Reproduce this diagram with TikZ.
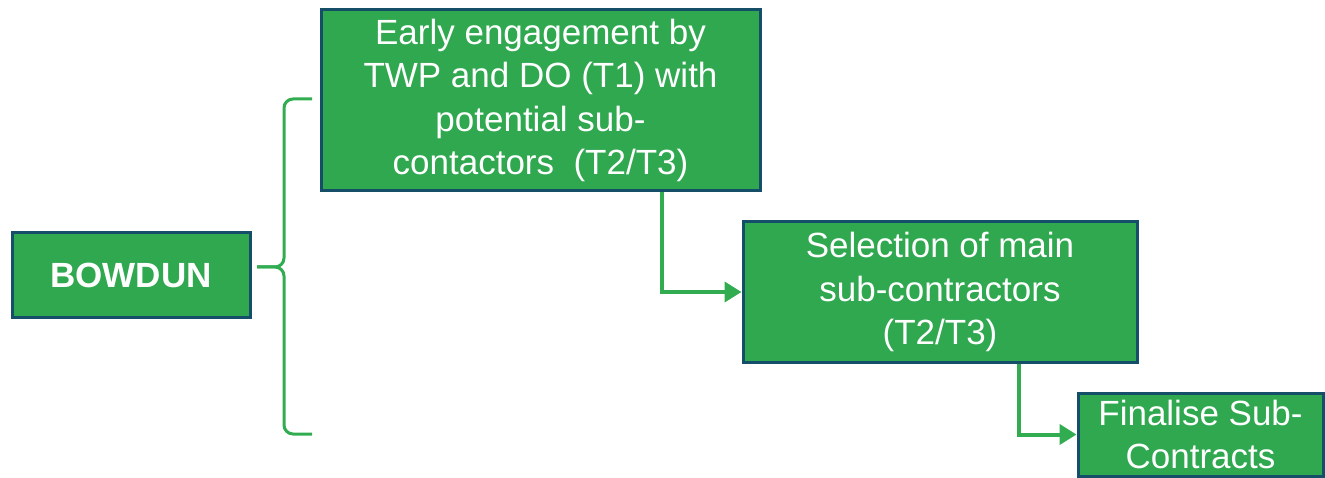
\documentclass[tikz,border=0pt]{standalone}
\usepackage{fontspec}
\setmainfont{Liberation Sans}
\usetikzlibrary{arrows.meta,calc}
\definecolor{boxgreen}{RGB}{47,168,79}
\definecolor{boxedge}{RGB}{20,78,105}
\definecolor{linegreen}{RGB}{50,172,80}
\tikzset{
  stepbox/.style={draw=boxedge, fill=boxgreen, line width=3pt, text=white, align=center, inner sep=0pt,
    font=\fontsize{35}{43.5}\selectfont},
  arr/.style={draw=linegreen, line width=4pt, -{Triangle[length=17pt,width=20pt]}},
  bracestyle/.style={draw=linegreen, line width=3pt, rounded corners=9pt}
}
\begin{document}
\begin{tikzpicture}[x=1pt,y=-1pt]
\useasboundingbox (0,0) rectangle (1325,478);
\node[stepbox, minimum width=238pt, minimum height=84pt] (bow) at (131,275) {\bfseries BOWDUN};
\node[stepbox, minimum width=439pt, minimum height=181pt] (early) at (540.5,100.5)
  {Early engagement by\\TWP and DO (T1) with\\potential sub-\\contactors\ \ (T2/T3)};
\node[stepbox, minimum width=394pt, minimum height=140pt] (sel) at (940,292)
  {Selection of main\\sub-contractors\\(T2/T3)};
\node[stepbox, minimum width=245pt, minimum height=83pt] (fin) at (1200.5,434.5)
  {Finalise Sub-\\Contracts};
% brace
\coordinate (bt) at (312,99);
\coordinate (bb) at (312,434);
\coordinate (tip) at (257,267);
\draw[bracestyle] (bt) -- (284,99) -- (284,267) -- (tip);
\draw[bracestyle] (tip) -- (284,267) -- (284,434) -- (bb);
% arrows
\draw[arr] ($(early.south west)!0.7745!(early.south east)$) |- (sel.west);
\draw[arr] ($(sel.south west)!0.698!(sel.south east)$) |- (fin.west);
\end{tikzpicture}
\end{document}
